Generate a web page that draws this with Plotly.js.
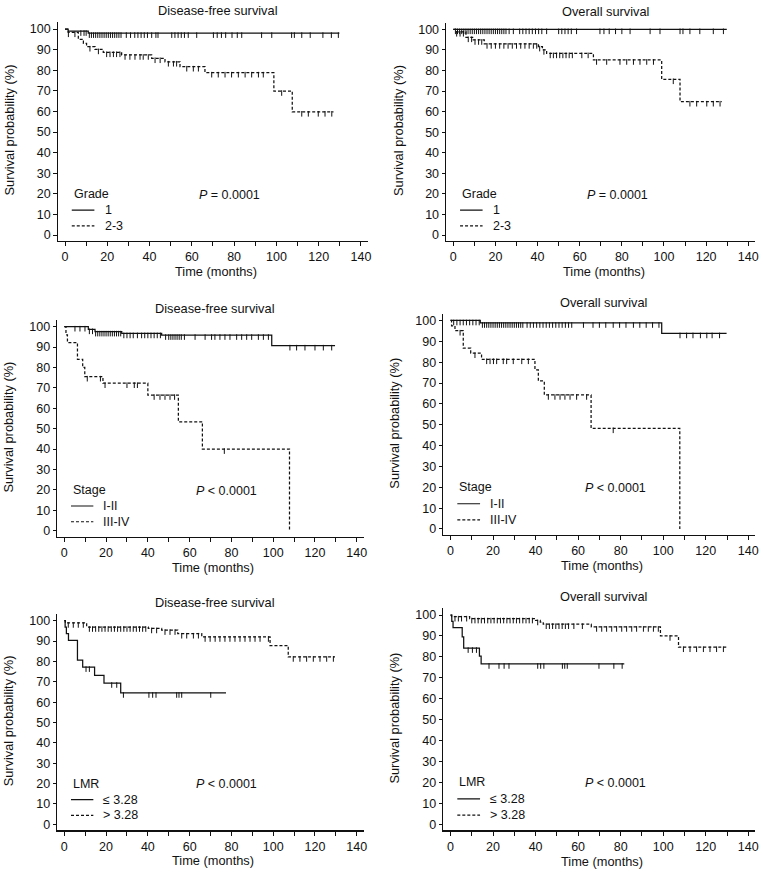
<!DOCTYPE html>
<html>
<head>
<meta charset="utf-8">
<script src="https://cdn.plot.ly/plotly-3.0.1.min.js"></script>
<style>html,body{margin:0;padding:0;background:#fff;}#chart{width:763px;height:872px;}</style>
</head>
<body>
<div id="chart"></div>
<script>
// ---------- DATA (months, survival %) ----------
// Grade – Disease-free survival
const gradeDfsG1T = [0, 1.5, 11, 129.8];
const gradeDfsG1S = [100, 99.0, 98.0, 98.0];
const gradeDfsG1Cens = [7.5, 9, 10, 11.5, 12.5, 13.5, 14.5, 15.5, 16.5, 17.5, 18.5, 19.5, 20.5, 21.5, 22.5, 23.5, 24.5, 25.5, 26.5,
  29, 31, 33, 34.5, 36, 37.5, 39, 41, 43, 44, 50.5, 52, 53.5, 55, 56.5, 58.3, 62.3, 70.2, 72, 74, 76, 79, 81.5, 83.6,
  93, 97.8, 107.2, 108.5, 112, 116, 122, 126, 129.3];
const gradeDfsG23T = [0, 1.5, 6.3, 8.7, 10.2, 14.2, 18.1, 26.8, 41, 47.3, 54.4, 66.2, 98.8, 107.5, 127];
const gradeDfsG23S = [100, 98.4, 95.0, 93.0, 91.4, 90.1, 88.7, 87.4, 85.8, 84.1, 81.7, 78.8, 69.9, 59.8, 59.8];
const gradeDfsG23Cens = [1.6, 4.7, 11.8, 15.8, 19.7, 21.3, 22.9, 24.4, 26, 28.4, 30.7, 33.1, 35.5, 37, 39.4, 42.6, 45,
  48.9, 51.3, 52.8, 57.6, 60.7, 63.1, 69.4, 72.5, 75.7, 78.8, 82, 85.2, 88.3, 91.5, 93.8, 102.5, 112, 115.1, 119.8, 123, 126.2];

// Grade – Overall survival
const gradeOsG1T = [0, 129.8];
const gradeOsG1S = [100, 100];
const gradeOsG1Cens = [1, 2, 3, 4, 5, 6, 7, 8, 9, 10, 11, 12, 13, 14, 15, 16, 17, 18, 19, 20, 21, 22, 23, 24, 25, 26.5,
  28.5, 31.5, 33, 34.5, 36, 37.5, 39, 40.5, 42, 44.3, 50, 51.5, 53, 54.5, 56, 58.5, 69.6, 71.5, 74, 77, 80, 83.9,
  93.4, 98.1, 107.6, 109, 112.3, 117, 123.4, 128.2];
const gradeOsG23T = [0, 1.5, 6, 9.5, 14.7, 40.4, 42.3, 44.3, 66.5, 98.9, 107.6, 127.4];
const gradeOsG23S = [100, 98.8, 96.1, 94.8, 92.9, 91.6, 90.0, 88.3, 85.1, 75.7, 64.8, 64.8];
const gradeOsG23Cens = [1.6, 3.2, 4.8, 7.1, 8.7, 10.3, 12, 13.5, 16, 18, 20, 22, 24, 26, 28, 30, 32, 34, 36, 38, 39.6,
  41, 43, 46, 47.5, 49, 50.5, 52, 53.5, 55, 56.5, 61, 64, 68, 72.8, 79.1, 82.3, 85.5, 88.6, 91.8, 95, 104.4,
  112.3, 115.5, 120.3, 123.4, 126.6];

// Stage – Disease-free survival
const stageDfsS12T = [0, 11.5, 14.7, 27.5, 46.6, 99.3, 129.6];
const stageDfsS12S = [100, 98.7, 97.6, 96.7, 95.9, 90.7, 90.7];
const stageDfsS12Cens = [5.1, 7.5, 9.9, 12, 13.5, 15, 16, 17, 18, 19, 20, 21, 22, 23, 24, 25, 26, 27, 28.5, 30, 31.5,
  33, 35, 37, 38.5, 40, 41.5, 43, 44.5, 46, 48.5, 50, 51, 52, 53, 54, 55, 56, 57.5, 62.6, 67.4, 70.5, 72.1, 74.5,
  76.9, 79.3, 82.5, 84.9, 87.3, 89.7, 92.9, 95.3, 97.7, 108, 111.2, 115.2, 120, 124, 128];
const stageDfsS34T = [0, 0.8, 1.5, 6.3, 8.8, 9.8, 18.5, 40, 54.6, 66.1, 107.8];
const stageDfsS34S = [100, 96, 92.2, 84.0, 80, 75.5, 72.3, 66.5, 53.4, 40.0, 0];
const stageDfsS34Cens = [11, 17.3, 19.5, 30, 33.5, 35, 43, 45.8, 48.2, 50.6, 52.8, 76.6];

// Stage – Overall survival
const stageOsS12T = [0, 14, 99.3, 129.8];
const stageOsS12S = [100, 98.8, 93.8, 93.8];
const stageOsS12Cens = [1.5, 3, 4.5, 6, 7.5, 9, 10.5, 12, 13.5, 15, 16, 17, 18, 19, 20, 21, 22, 23, 24, 25, 26, 27, 28,
  29, 30, 31, 32, 33, 34, 36, 37.5, 39, 40.5, 42, 43.5, 45, 46.5, 48, 49.5, 51, 52.5, 54, 55.5, 57, 62.5, 67, 70, 73,
  76.5, 79.5, 82.5, 86, 89, 92, 95, 98, 107.9, 111, 114, 117.5, 120.5, 123, 126.5];
const stageOsS34T = [0, 0.5, 2.1, 6.0, 9.5, 14.6, 39.7, 41.3, 44.1, 66.1, 107.8];
const stageOsS34S = [100, 97.4, 95.1, 86.7, 84.3, 81.4, 76.3, 71.0, 64.3, 48.3, 0];
const stageOsS34Cens = [4.5, 11.5, 17, 18.6, 20.2, 21.7, 24.8, 26.4, 29.5, 33.5, 36.6, 46, 49.1, 51.5, 53.8, 56.2,
  59.3, 64, 76.5];

// LMR – Disease-free survival
const lmrDfsLoT = [0, 0.4, 1.0, 2.0, 6.3, 8.8, 14.5, 19.0, 27.0, 77.4];
const lmrDfsLoS = [100, 96.8, 93.6, 90.3, 80.6, 77.2, 73.2, 69.4, 64.5, 64.5];
const lmrDfsLoCens = [10.4, 12, 22.7, 25.1, 28.3, 40.5, 42.3, 43.9, 53.8, 54.9, 56.2, 70.1];
const lmrDfsHiT = [0, 0.5, 10.7, 40.2, 46.6, 54.3, 65.8, 98.5, 107.2, 129.6];
const lmrDfsHiS = [100, 98.9, 96.9, 96.2, 95.4, 93.6, 92.0, 87.8, 82.2, 82.2];
const lmrDfsHiCens = [1.9, 4.3, 6.7, 9.1, 12, 13.5, 15, 16.5, 18, 19.5, 21, 22.5, 24, 25.5, 27, 28.5, 30, 31.5, 33,
  34.5, 36, 37.5, 39, 41.8, 44.2, 48.2, 50.6, 53.0, 56.2, 58.6, 61.8, 64.2, 67.4, 69.8, 72.2, 74.5, 76.9, 79.3,
  81.7, 84.1, 86.5, 88.9, 91.3, 93.7, 97.7, 109.6, 112.8, 116, 119.2, 122.4, 125.6, 128.8];

// LMR – Overall survival
const lmrOsLoT = [0, 0.6, 1.2, 5.5, 6.2, 13.6, 14.4, 81.7];
const lmrOsLoS = [100, 97, 94.0, 89.5, 84.2, 80.4, 76.6, 76.6];
const lmrOsLoCens = [8.3, 10.3, 12.2, 18.1, 22.8, 25.2, 27.5, 41, 42.4, 43.9, 52.6, 53.7, 54.9, 69.8, 76.8, 80.7];
const lmrOsHiT = [0, 0.5, 9, 40, 42.2, 43.6, 66.2, 98.7, 107.2, 129.8];
const lmrOsHiS = [100, 99.2, 98.3, 97.4, 96.6, 95.6, 94.3, 90.0, 84.6, 84.6];
const lmrOsHiCens = [2.1, 3.7, 5.2, 7.6, 10, 11.5, 13, 14.5, 16, 17.5, 19, 20.5, 22, 23.5, 25, 26.5, 28, 29.5, 31,
  32.5, 34, 35.5, 37, 38.5, 41, 45, 46.5, 48, 49.5, 51, 52.5, 54, 55.5, 58, 62, 68.7, 71.1, 73.4, 75.8, 78.1, 80.5,
  82.8, 85.2, 87.5, 90.7, 93, 95.4, 97.7, 103.2, 109.5, 112.6, 115.7, 118.9, 122, 125.1, 128.3];

// Tick values
const xTickVals = [0, 20, 40, 60, 80, 100, 120, 140];
const yTickVals = [0, 10, 20, 30, 40, 50, 60, 70, 80, 90, 100];

// ---------- LAYOUT / STYLE ----------
const W = 763, H = 872;
const FONT = 'Liberation Sans, Arial, Helvetica, sans-serif';
const INK = '#111';
const XR = [-3.3, 143.3], YR = [-2.9, 103.3];

const panels = [
  {title: 'Disease-free survival', group: 'Grade', p: '<i>P</i> = 0.0001',
   cal: {x0: 65, sx: 2.114, y0: 235, sy: 2.06},
   curves: [
     {name: '1', t: gradeDfsG1T, s: gradeDfsG1S, c: gradeDfsG1Cens, dash: 'solid'},
     {name: '2-3', t: gradeDfsG23T, s: gradeDfsG23S, c: gradeDfsG23Cens, dash: '3px,2px'}]},
  {title: 'Overall survival', group: 'Grade', p: '<i>P</i> = 0.0001',
   cal: {x0: 453.3, sx: 2.107, y0: 235, sy: 2.057},
   curves: [
     {name: '1', t: gradeOsG1T, s: gradeOsG1S, c: gradeOsG1Cens, dash: 'solid'},
     {name: '2-3', t: gradeOsG23T, s: gradeOsG23S, c: gradeOsG23Cens, dash: '3px,2px'}]},
  {title: 'Disease-free survival', group: 'Stage', p: '<i>P</i> < 0.0001',
   cal: {x0: 64.3, sx: 2.089, y0: 530.7, sy: 2.04},
   curves: [
     {name: 'I-II', t: stageDfsS12T, s: stageDfsS12S, c: stageDfsS12Cens, dash: 'solid'},
     {name: 'III-IV', t: stageDfsS34T, s: stageDfsS34S, c: stageDfsS34Cens, dash: '3px,2px'}]},
  {title: 'Overall survival', group: 'Stage', p: '<i>P</i> < 0.0001',
   cal: {x0: 450.5, sx: 2.127, y0: 529, sy: 2.085},
   curves: [
     {name: 'I-II', t: stageOsS12T, s: stageOsS12S, c: stageOsS12Cens, dash: 'solid'},
     {name: 'III-IV', t: stageOsS34T, s: stageOsS34S, c: stageOsS34Cens, dash: '3px,2px'}]},
  {title: 'Disease-free survival', group: 'LMR', p: '<i>P</i> < 0.0001',
   cal: {x0: 64.3, sx: 2.089, y0: 824.3, sy: 2.036},
   curves: [
     {name: '≤ 3.28', t: lmrDfsLoT, s: lmrDfsLoS, c: lmrDfsLoCens, dash: 'solid'},
     {name: '> 3.28', t: lmrDfsHiT, s: lmrDfsHiS, c: lmrDfsHiCens, dash: '3px,2px'}]},
  {title: 'Overall survival', group: 'LMR', p: '<i>P</i> < 0.0001',
   cal: {x0: 450.5, sx: 2.127, y0: 824.3, sy: 2.093},
   curves: [
     {name: '≤ 3.28', t: lmrOsLoT, s: lmrOsLoS, c: lmrOsLoCens, dash: 'solid'},
     {name: '> 3.28', t: lmrOsHiT, s: lmrOsHiS, c: lmrOsHiCens, dash: '3px,2px'}]}
];

function stepAt(t, s, x) {
  let v = s[0];
  for (let i = 0; i < t.length; i++) { if (t[i] <= x) v = s[i]; }
  return v;
}

const traces = [];
const layout = {
  width: W, height: H, margin: {l: 0, r: 0, t: 0, b: 0},
  paper_bgcolor: '#fff', plot_bgcolor: 'rgba(0,0,0,0)',
  showlegend: false, font: {family: FONT, color: INK, size: 12.5},
  annotations: [], shapes: []
};

const CENS_SIZE = 4;
panels.forEach((p, i) => {
  const n = i + 1;
  const xa = n === 1 ? 'x' : 'x' + n, ya = n === 1 ? 'y' : 'y' + n;
  const xk = n === 1 ? 'xaxis' : 'xaxis' + n, yk = n === 1 ? 'yaxis' : 'yaxis' + n;
  const c = p.cal;
  const dx = [(c.x0 + XR[0] * c.sx) / W, (c.x0 + XR[1] * c.sx) / W];
  const dy = [1 - (c.y0 - YR[0] * c.sy) / H, 1 - (c.y0 - YR[1] * c.sy) / H];
  const axCommon = {
    showline: true, linecolor: INK, linewidth: 1.3, showgrid: false, zeroline: false,
    ticks: 'outside', ticklen: 4, tickwidth: 1, tickcolor: INK,
    tickfont: {family: FONT, size: 12.5, color: INK}, fixedrange: true
  };
  layout[xk] = Object.assign({}, axCommon, {
    domain: dx, range: XR, anchor: ya, tickmode: 'array', tickvals: xTickVals,
    minor: {dtick: 10, tick0: 0, ticks: 'outside', ticklen: 4, tickwidth: 1, tickcolor: INK, showgrid: false}
  });
  layout[yk] = Object.assign({}, axCommon, {
    domain: dy, range: YR, anchor: xa, tickmode: 'array', tickvals: yTickVals, ticklen: 3.5
  });

  const off = (CENS_SIZE / 2) / c.sy;
  p.curves.forEach(cv => {
    traces.push({
      type: 'scatter', mode: 'lines', x: cv.t, y: cv.s, xaxis: xa, yaxis: ya,
      line: {shape: 'hv', color: INK, width: 1.25, dash: cv.dash}, hoverinfo: 'skip', name: cv.name
    });
    traces.push({
      type: 'scatter', mode: 'markers', x: cv.c,
      y: cv.c.map(t => stepAt(cv.t, cv.s, t) - off), xaxis: xa, yaxis: ya,
      marker: {symbol: 'line-ns-open', size: CENS_SIZE, line: {width: 1, color: INK}, color: INK},
      hoverinfo: 'skip'
    });
  });

  // titles
  layout.annotations.push({text: p.title, xref: xa, x: 72, yref: ya + ' domain', y: 1, yshift: 11.5,
    yanchor: 'middle', xanchor: 'center', showarrow: false, font: {family: FONT, size: 12.8, color: INK}});
  layout.annotations.push({text: 'Time (months)', xref: xa, x: 71.4, yref: ya + ' domain', y: 0, yshift: -30.7,
    yanchor: 'middle', xanchor: 'center', showarrow: false, font: {family: FONT, size: 12.8, color: INK}});
  layout.annotations.push({text: 'Survival probability (%)', xref: xa + ' domain', x: 0, xshift: -48.5,
    yref: ya, y: 51, textangle: -90, xanchor: 'center', yanchor: 'middle', showarrow: false,
    font: {family: FONT, size: 12.8, color: INK}});
  // p-value
  layout.annotations.push({text: p.p, xref: xa, x: 62.3, yref: ya, y: 19.6, xanchor: 'left', yanchor: 'middle',
    showarrow: false, font: {family: FONT, size: 12.5, color: INK}});
  // legend
  layout.annotations.push({text: p.group, xref: xa, x: 3.2, yref: ya, y: 20, xanchor: 'left', yanchor: 'middle',
    showarrow: false, font: {family: FONT, size: 12.5, color: INK}});
  const rows = [12.1, 4.4];
  p.curves.forEach((cv, k) => {
    layout.shapes.push({type: 'line', xref: xa, yref: ya, x0: 3.2, x1: 13.9, y0: rows[k], y1: rows[k],
      line: {color: INK, width: 1.2, dash: cv.dash}});
    layout.annotations.push({text: cv.name, xref: xa, x: 17.8, yref: ya, y: rows[k], xanchor: 'left',
      yanchor: 'middle', showarrow: false, font: {family: FONT, size: 12.5, color: INK}});
  });
});

Plotly.newPlot('chart', traces, layout, {staticPlot: true, displayModeBar: false});
</script>
</body>
</html>
